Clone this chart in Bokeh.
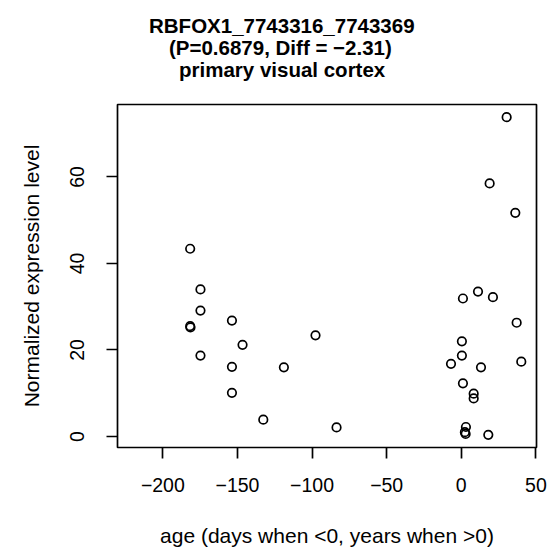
from bokeh.plotting import figure
from bokeh.models import Range1d, FixedTicker, Title
from bokeh.embed import file_html
from bokeh.resources import INLINE

# ---- data ----
age = [-181.7, -174.8, -174.8, -181.7, -181.5, -174.8, -153.7, -146.6, -153.7, -153.7,
       -132.7, -118.9, -97.7, -83.6,
       30.4, 19.0, 36.2, 1.1, 11.2, 21.2, 37.1, 0.4, 0.4, -6.9, 13.2, 40.2, 1.1,
       8.3, 8.3, 3.1, 2.4, 2.9, 18.1]
expr = [43.4, 34.0, 29.1, 25.5, 25.2, 18.7, 26.8, 21.2, 16.1, 10.1,
        3.9, 16.0, 23.4, 2.1,
        73.8, 58.5, 51.7, 31.9, 33.5, 32.2, 26.3, 22.0, 18.7, 16.8, 16.0, 17.3, 12.3,
        9.9, 8.8, 2.2, 1.0, 0.6, 0.4]
x_lim = [-220, 40]
x_ticks = [-200, -150, -100, -50, 0, 50]
x_tick_labels = ["\u2212200", "\u2212150", "\u2212100", "\u221250", "0", "50"]
y_ticks = [0, 20, 40, 60]
y_tick_labels = ["0", "20", "40", "60"]
title_lines = ["RBFOX1_7743316_7743369", "(P=0.6879, Diff = \u22122.31)", "primary visual cortex"]
x_title = "age (days when <0, years when >0)"
y_title = "Normalized expression level"

FONT = "Liberation Sans"

xpad = 0.04 * (x_lim[1] - x_lim[0])
ylo, yhi = min(expr), max(expr)
ypad = 0.04 * (yhi - ylo)

p = figure(width=549, height=553, output_backend="svg", toolbar_location=None,
           title_location=None,
           x_range=Range1d(x_lim[0] - xpad, x_lim[1] + xpad),
           y_range=Range1d(ylo - ypad, yhi + ypad),
           min_border_left=117, min_border_right=13, min_border_top=104, min_border_bottom=106)
p.background_fill_color = "white"
p.border_fill_color = "white"
p.grid.visible = False
p.outline_line_color = "black"
p.outline_line_width = 1.7
p.outline_line_alpha = 1.0

for ax, ticks, labels in ((p.xaxis, x_ticks, x_tick_labels), (p.yaxis, y_ticks, y_tick_labels)):
    ax.ticker = FixedTicker(ticks=ticks)
    ax.major_label_overrides = {t: l for t, l in zip(ticks, labels)}
    ax.minor_tick_line_color = None
    ax.major_tick_in = 0
    ax.major_tick_out = 11
    ax.major_tick_line_width = 1.7
    ax.major_tick_line_color = "black"
    ax.axis_line_color = None
    ax.major_label_text_font = FONT
    ax.major_label_text_font_size = "19.5px"
    ax.major_label_text_color = "black"
    ax.axis_label_text_font = FONT
    ax.axis_label_text_font_size = "21px"
    ax.axis_label_text_font_style = "normal"
    ax.axis_label_text_color = "black"

p.xaxis.major_label_standoff = 19
p.yaxis.major_label_standoff = 22
p.xaxis.axis_label_standoff = 29
p.yaxis.axis_label_standoff = 25
p.xaxis.axis_label = x_title
p.yaxis.axis_label = y_title
p.yaxis.major_label_orientation = "vertical"

p.scatter(age, expr, marker="circle", size=8.5, fill_color=None,
          line_color="black", line_width=1.7)

# title: a spacer panel next to the frame, then the three lines stacked upward,
# each line centred on the same x position as in the reference
p.add_layout(Title(text=" ", text_font=FONT, text_font_size="20.5px", standoff=-0.5), "above")
offsets = [31.5, 51.5, 61.5]
for line, off in reversed(list(zip(title_lines, offsets))):
    p.add_layout(Title(text=line, align="left", offset=off, standoff=-2.8,
                       text_font=FONT, text_font_size="20.5px", text_font_style="bold",
                       text_color="black"), "above")

open("out.html", "w").write(file_html(p, INLINE))
